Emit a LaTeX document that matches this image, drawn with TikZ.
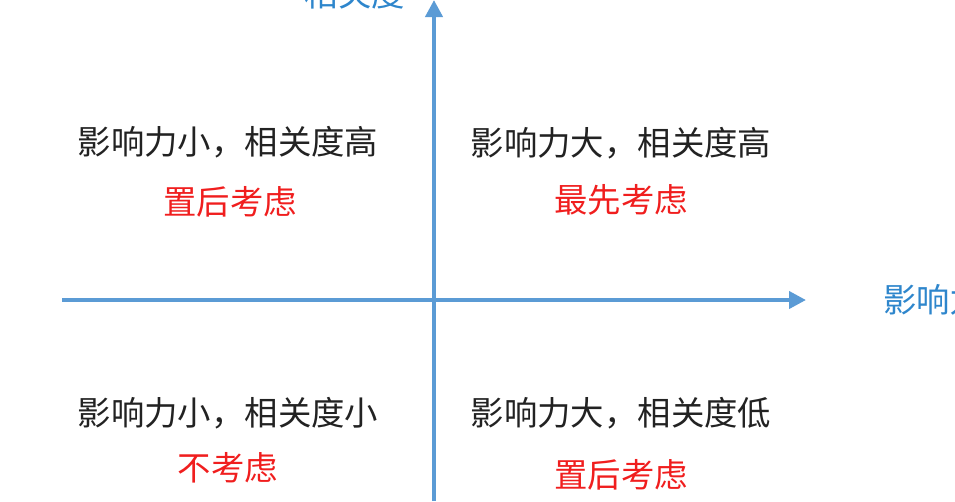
\documentclass[tikz,border=0pt]{standalone}
\usepackage{fontspec}
\setmainfont{Noto Sans CJK SC}
\usepackage{tikz}
\usetikzlibrary{arrows.meta}
\definecolor{axisblue}{RGB}{91,155,213}
\definecolor{labelblue}{RGB}{46,134,204}
\definecolor{hintred}{RGB}{240,30,30}
\definecolor{textgray}{RGB}{34,34,34}
\tikzset{
    axis line/.style={line width=0.8mm, draw=axisblue, -{Triangle[length=3.4mm, width=3.4mm]}}, % 坐标轴样式
    axis label/.style={text=labelblue, font=\fontsize{19pt}{19pt}\selectfont}, % 坐标轴标题
    quad text/.style={text=textgray, font=\fontsize{19pt}{19pt}\selectfont, inner sep=0pt}, % 象限说明
    quad hint/.style={text=hintred, font=\fontsize{19pt}{19pt}\selectfont, inner sep=0pt} % 象限结论
}

\begin{document}
\begin{tikzpicture}[x=0.2mm, y=-0.2mm]
        \useasboundingbox (0, 0) rectangle (955, 501);

        \coordinate (xstart) at (62, 300);
        \coordinate (xend) at (806, 300);
        \coordinate (ystart) at (434, 501);
        \coordinate (yend) at (434, 0);

        \draw[axis line] (xstart) -- (xend);
        \draw[axis line] (ystart) -- (yend);

        \node[axis label, anchor=west] (xlabel) at (877, 300) {影响力};
        \node[axis label] (ylabel) at (355, -6) {相关度};

        \foreach \name / \x / \y / \labelText / \hintText in {
            lt/228/142/{影响力小，相关度高}/{置后考虑},
            rt/621/143/{影响力大，相关度高}/{最先考虑},
            lb/228/413/{影响力小，相关度小}/{不考虑},
            rb/621/413/{影响力大，相关度低}/{置后考虑}
        } {
            \node[quad text] (\name) at (\x, \y) {\labelText};
        }

        \node[quad hint] (lthint) at (230, 202) {置后考虑};
        \node[quad hint] (rthint) at (621, 200) {最先考虑};
        \node[quad hint] (lbhint) at (228, 468) {不考虑};
        \node[quad hint] (rbhint) at (621, 475) {置后考虑};

\end{tikzpicture}
\end{document}
